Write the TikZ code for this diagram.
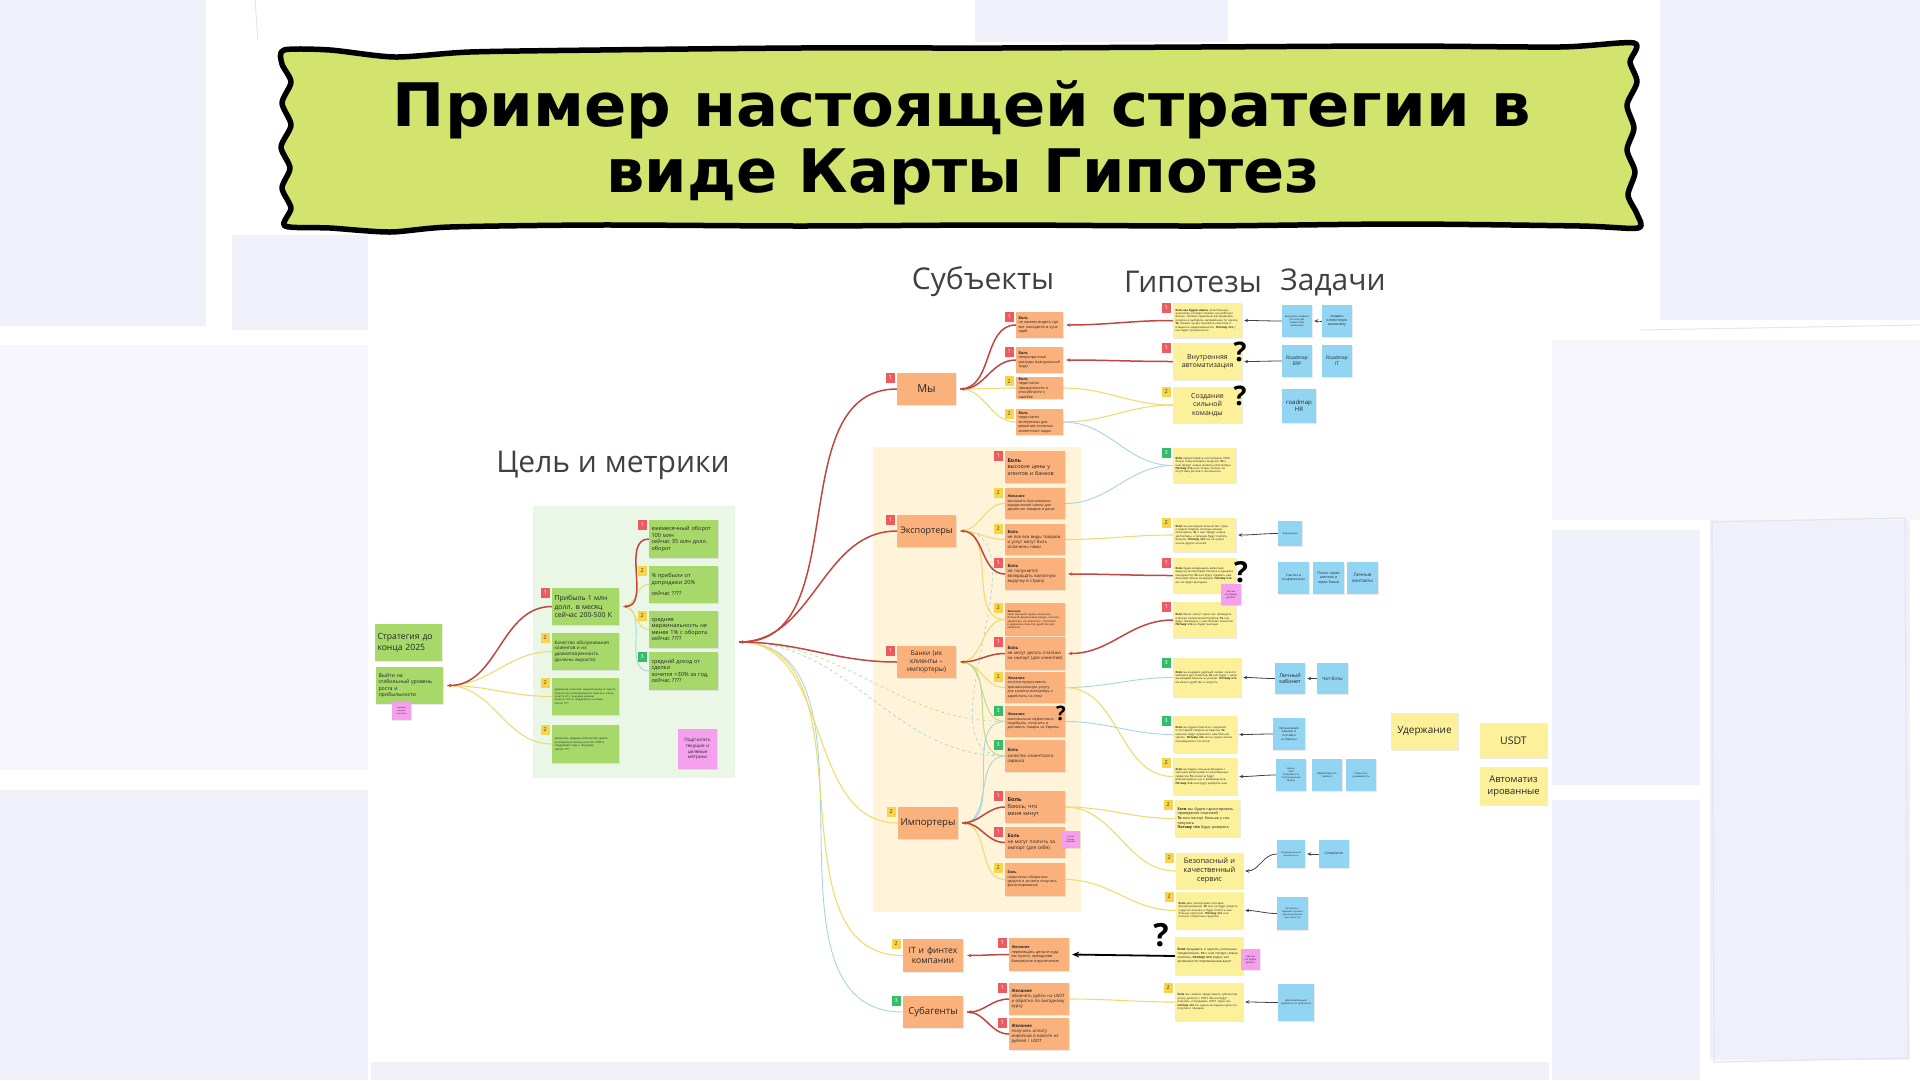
\documentclass[tikz,border=0pt]{standalone}
\usepackage{fontspec}
\setmainfont{Open Sans}
\newfontfamily\titlefont{DejaVu Sans}
\usetikzlibrary{arrows.meta,shadows,calc}
\pgfdeclarelayer{back}\pgfdeclarelayer{links}
\pgfsetlayers{back,links,main}
\definecolor{titleg}{HTML}{D2E36E}
\definecolor{bgl}{HTML}{EFF0FA}
\definecolor{bgll}{HTML}{F6F6FC}
\definecolor{bgline}{HTML}{E3E5F4}
\definecolor{gsti}{HTML}{A6D86A}
\definecolor{greg}{HTML}{EAF7E7}
\definecolor{osti}{HTML}{FAB17B}
\definecolor{yreg}{HTML}{FFF3D9}
\definecolor{ysti}{HTML}{FCF09B}
\definecolor{bsti}{HTML}{92D5F2}
\definecolor{psti}{HTML}{F5A0EC}
\definecolor{bred}{HTML}{EE5B5E}
\definecolor{byel}{HTML}{F8D447}
\definecolor{bgrn}{HTML}{34BC66}
\definecolor{cred}{HTML}{C0473F}
\definecolor{cyel}{HTML}{EEDC70}
\definecolor{cteal}{HTML}{A6D6DC}
\definecolor{cgrn}{HTML}{BCDD8C}
\newcommand{\fz}[2]{\fontsize{#1}{#2}\selectfont}
\newcommand{\sticky}[7]{%
  \pgfmathsetmacro{\skw}{#5-#3}%
  \pgfmathsetmacro{\skh}{#6-#4}%
  \pgfmathsetmacro{\sktw}{#5-#3-5}%
  \node[#1, minimum width=\skw pt, minimum height=\skh pt, text width=\sktw pt] (#2) at ({(#3+#5)/2},{(#4+#6)/2}) {#7};}
\newcommand{\bdg}[3]{\node[badge,#2] (#1b) at ([xshift=-6.5pt,yshift=-5pt]#1.north west) {#3};}
\tikzset{
  stk/.style={rectangle, inner xsep=2.5pt, inner ysep=1pt, text=black!85,
    drop shadow={shadow xshift=0.6pt, shadow yshift=-1pt, opacity=0.16}},
  gnote/.style={stk, fill=gsti},
  onote/.style={stk, fill=osti},
  ynote/.style={stk, fill=ysti},
  bnote/.style={stk, fill=bsti, align=center},
  pnote/.style={stk, fill=psti, align=center, inner xsep=1pt},
  badge/.style={rectangle, minimum width=9pt, minimum height=10pt, inner sep=0pt, font=\fz{5.5}{6}},
  br/.style={fill=bred, text=white},
  by/.style={fill=byel, text=black!75},
  bg/.style={fill=bgrn, text=white},
  lred/.style={draw=cred, line width=1.5pt},
  lyel/.style={draw=cyel, line width=1.1pt},
  lteal/.style={draw=cteal, line width=0.9pt},
  lgrn/.style={draw=cgrn, line width=1pt},
  ltask/.style={draw=black!75, line width=0.8pt},
  lblk/.style={draw=black, line width=1.8pt},
  tipS/.style={{Stealth[length=4pt,width=3.5pt]}-},
  tipL/.style={{Stealth[length=7pt,width=6pt]}-},
  head/.style={font=\fz{30}{34}, text=black!75},
  qm/.style={font=\bfseries\fz{27}{27}, text=black, inner sep=0pt},
  titletxt/.style={font=\titlefont\bfseries\fz{60}{64}, text=black, inner sep=0pt},
  chs/.style={onote, align=left, font=\fz{4.3}{5.2}},
  chm/.style={onote, align=left, font=\fz{3.8}{4.5}},
  hyp/.style={ynote, align=left, font=\fz{2.8}{3.4}},
}
\begin{document}
\begin{tikzpicture}[x=1pt,y=-1pt]
\useasboundingbox (0,0) rectangle (1920,1080);
\begin{pgfonlayer}{back}
\fill[white] (0,0) rectangle (1920,1080);
\fill[bgl] (0,0) rectangle (206,326);
\fill[bgll] (0,345) rectangle (368,770);
\fill[bgl] (0,790) rectangle (368,1080);
\fill[bgl] (232,235) rectangle (368,330);
\fill[bgl] (975,0) rectangle (1228,42);
\fill[bgl] (1660,0) rectangle (1920,320);
\fill[bgll] (1552,340) rectangle (1920,520);
\fill[bgl] (1552,530) rectangle (1700,785);
\fill[bgl] (1710,520) rectangle (1910,1060);
\draw[bgline, line width=1.2pt] (1712,522) -- (1905,518) -- (1908,1058) -- (1714,1062) -- cycle;
\fill[bgl] (1552,800) rectangle (1700,1080);
\fill[bgl] (371,1062) rectangle (1549,1080);
\draw[bgline, line width=1pt] (255,0) -- (258,40);
\draw[bgline, line width=1pt] (1640,330) -- (1920,325);
% screenshot panel
\fill[white] (371,257) rectangle (1549,1062);
\fill[greg] (533,506) rectangle (735,778);
\fill[yreg] (873,447) rectangle (1081,912);
\end{pgfonlayer}

% title banner
\draw[line width=5.5pt, fill=titleg, line join=round] plot[smooth cycle, tension=0.45] coordinates {
 (284,50) (330,50) (395,57) (470,52) (600,50) (800,48) (1000,48) (1200,47) (1400,46) (1560,47) (1634,43)
 (1630,62) (1637,82) (1627,105) (1634,128) (1627,150) (1635,172) (1628,195) (1637,214) (1638,228)
 (1580,226) (1400,224) (1200,226) (1000,225) (800,226) (600,225) (450,227) (390,232) (330,228) (285,226)
 (291,208) (282,188) (290,168) (281,147) (291,125) (282,103) (291,82) (282,64)};
\node[titletxt, anchor=base] (t1) at (962,126) {\scalebox{1.04}[1]{Пример настоящей стратегии в}};
\node[titletxt, anchor=base] (t2) at (963,192) {\scalebox{1.01}[1]{виде Карты Гипотез}};

% headings
\node[head] (hS) at (983,282) {Субъекты};
\node[head] (hH) at (1193,282) {Гипотезы};
\node[head] (hZ) at (1333,282) {Задачи};
\node[head] (hC) at (613,465) {Цель и метрики};

% left
\sticky{gnote,align=left,font=\fz{8.6}{10.5}}{Strat}{375}{624}{442}{661}{Стратегия до конца 2025}
\sticky{gnote,align=left,font=\fz{5.2}{6.3}}{Goal}{376}{667}{443}{704}{Выйти на\\стабильный уровень\\роста и\\прибыльности}
\sticky{pnote,font=\fz{2}{2.6}}{PG}{392}{702}{411}{720}{целевые\\метрики\\компании}

% goal metrics
\sticky{gnote,align=left,font=\fz{6.9}{8.6}}{Prof}{552}{588}{619}{625}{Прибыль 1 млн\\долл. в месяц\\сейчас 200-500 К}
\sticky{gnote,align=left,font=\fz{4.6}{5.8}}{Qual}{552}{633}{619}{670}{Качество обслуживания\\клиентов и их\\удовлетворенность\\(должны вырасти)}
\sticky{gnote,align=left,font=\fz{2.6}{3.3}}{Ret}{552}{678}{619}{715}{удержание клиентов: средний доход от одного клиента при повторяющихся сделках в месяц, хочется x2 к текущему уровню\\хочется +X\% за следующие 6 месяцев\\сейчас ????}
\sticky{gnote,align=left,font=\fz{2.8}{3.5}}{Deals}{552}{725}{619}{763}{увеличить среднее количество сделок на клиента в месяц, хочется +50\% в следующем году к текущему\\сейчас ????}
\sticky{gnote,align=left,font=\fz{5.6}{6.6}}{M1}{649}{520}{718}{558}{ежемесячный оборот\\100 млн\\сейчас 35 млн долл.\\оборот}
\sticky{gnote,align=left,font=\fz{5.6}{6.6}}{M2}{649}{566}{718}{603}{\% прибыли от\\допродажи 20\%\\[5pt]сейчас ????}
\sticky{gnote,align=left,font=\fz{5.6}{6.6}}{M3}{649}{611}{718}{648}{средняя\\маржинальность не\\менее 1\% с оборота\\сейчас ????}
\sticky{gnote,align=left,font=\fz{5.6}{6.6}}{M4}{649}{652}{718}{690}{средний доход от\\сделки\\хочется +30\% за год,\\сейчас ????}
\sticky{pnote,font=\fz{4.6}{5.8}}{PM}{678}{729}{717}{769}{Подсчитать\\текущие и\\целевые\\метрики}

% subjects
\sticky{onote,align=center,font=\fz{11}{13}}{We}{897}{373}{956}{405}{Мы}
\sticky{onote,align=center,font=\fz{9}{11}}{Exp}{897}{515}{956}{547}{Экспортеры}
\sticky{onote,align=center,font=\fz{6.6}{8}}{Bank}{897}{646}{956}{678}{Банки (их\\клиенты –\\импортеры)}
\sticky{onote,align=center,font=\fz{9.6}{11}}{Imp}{898}{807}{958}{839}{Импортеры}
\sticky{onote,align=center,font=\fz{8.6}{10.5}}{ITf}{903}{939}{963}{972}{IT и финтех\\компании}
\sticky{onote,align=center,font=\fz{9.6}{11}}{Sub}{903}{996}{963}{1028}{Субагенты}

% children: Мы
\sticky{chm}{W1}{1016}{312}{1063}{338}{\textbf{Боль}\\не можем видеть где все находится в куче идей}
\sticky{chm}{W2}{1016}{347}{1063}{373}{\textbf{Боль}\\непрозрачные расходы (мануальный труд)}
\sticky{chm}{W3}{1016}{377}{1063}{399}{\textbf{Боль}\\недостаток прозрачности и способности к ошибке}
\sticky{chm}{W4}{1016}{409}{1063}{435}{\textbf{Боль}\\недостаток экспертизы для решения сложных клиентских задач}
% children: Экспортеры
\sticky{onote,align=left,font=\fz{5.4}{6.4}}{E1}{1005}{451}{1065}{483}{\textbf{Боль}\\высокие цены у\\агентов и банков}
\sticky{chs,font=\fz{3.6}{4.4}}{E2}{1005}{488}{1065}{519}{\textbf{Желание}\\выстроить бухгалтерско-юридические схемы для движения товаров и денег}
\sticky{chs}{E3}{1005}{524}{1065}{555}{\textbf{Боль}\\не все все виды товаров и услуг могут быть оплачены нами}
\sticky{chs}{E4}{1005}{558}{1065}{590}{\textbf{Боль}\\не получается возвращать валютную выручку в страну}
% children: Банки
\sticky{chs,font=\fz{2.7}{3.3}}{B1}{1005}{603}{1065}{636}{\textbf{Желание}\\свой хороший сервис клиентам, большой финансовый ресурс, хочется заработать на комиссии с платежей и удержать клиентов, удобство для клиентов}
\sticky{chs}{B2}{1005}{637}{1065}{670}{\textbf{Боль}\\не могут делать платежи на импорт (для клиентов)}
\sticky{chs,font=\fz{3.6}{4.4}}{B3}{1005}{672}{1065}{703}{\textbf{Желание}\\хочется предоставить транзакционную услугу для клиента импортеру и заработать на этом}
\sticky{chs,font=\fz{3.6}{4.4}}{B4}{1005}{706}{1065}{737}{\textbf{Желание}\\максимально эффективно подобрать, получить и доставить товары из Европы}
\sticky{chs}{B5}{1005}{740}{1065}{772}{\textbf{Боль}\\качество клиентского сервиса}
% children: Импортеры
\sticky{onote,align=left,font=\fz{5.6}{6.8}}{I1}{1005}{791}{1065}{823}{\textbf{Боль}\\боюсь, что\\меня кинут}
\sticky{onote,align=left,font=\fz{4.8}{5.8}}{I2}{1005}{827}{1065}{858}{\textbf{Боль}\\не могут платить за импорт (для себя)}
\sticky{chs,font=\fz{3.6}{4.4}}{I3}{1005}{863}{1065}{896}{\textbf{Боль}\\недостаток оборотных средств и хочется получить финансирование}
\sticky{pnote,font=\fz{2.2}{2.8}}{PI}{1061}{831}{1080}{848}{кто за\\платеж\\отвечает}
% children: IT, Субагенты
\sticky{chs,font=\fz{3.8}{4.6}}{F1}{1009}{938}{1069}{971}{\textbf{Желание}\\перемещать деньги куда им нужно, преодолев банковские ограничения}
\sticky{chs}{S1}{1009}{983}{1069}{1015}{\textbf{Желание}\\обменять рубли на USDT и обратно по выгодному курсу}
\sticky{chs}{S2}{1009}{1018}{1069}{1050}{\textbf{Желание}\\получить оплату инвойсов в валюте из рублей / USDT}

% hypotheses
\sticky{hyp}{H1}{1173}{303}{1242}{338}{\textbf{Если мы будем иметь} качественную аналитику, которая покажет как работает бизнес, сможем правильно распределять ресурсы и выбирать направления по сделке. \textbf{То} сможем лучше понимать клиентов и повышать маржинальность. \textbf{Потому что} у нас будет прозрачность}
\sticky{ynote,align=center,font=\fz{7}{8.6}}{H2}{1173}{343}{1242}{380}{Внутренняя\\автоматизация}
\sticky{ynote,align=center,font=\fz{7}{8.6}}{H3}{1173}{387}{1242}{423}{Создание\\сильной\\команды}
\sticky{hyp}{H4}{1173}{448}{1236}{483}{\textbf{Если} предоставлять экспортерам 100\% белую схему возврата выручки, \textbf{То} к нам придут новые клиенты-экспортеры. \textbf{Потому что} они готовы платить за отсутствие рисков и легальность}
\sticky{hyp}{H5}{1173}{518}{1236}{552}{\textbf{Если} мы расширим количество стран и видов товаров, которые можем оплачивать, \textbf{То} к нам придут новые экспортеры, а текущие будут платить больше. \textbf{Потому что} им не нужно искать других агентов}
\sticky{hyp}{H6}{1173}{558}{1236}{593}{\textbf{Если} будем возвращать валютную выручку экспортерам быстрее и дешевле конкурентов, \textbf{То} они будут отдавать нам больший объем операций. \textbf{Потому что} им так будет выгоднее}
\sticky{hyp}{H7}{1173}{602}{1236}{638}{\textbf{Если} банки смогут через нас проводить платежи клиентов-импортеров, \textbf{То} они будут приводить к нам больше клиентов. \textbf{Потому что} им будет выгодно}
\sticky{hyp}{H8}{1173}{658}{1241}{697}{\textbf{Если} мы внедрим удобный сервис личного кабинета для клиентов, \textbf{То} они будут с нами взаимодействовать не разово. \textbf{Потому что} им важно удобство и скорость}
\sticky{hyp}{H9}{1173}{716}{1237}{753}{\textbf{Если} мы будем помогать с закупкой и поставкой товаров из Европы, \textbf{То} клиенты будут приносить нам больше сделок. \textbf{Потому что} им не нужно искать поставщиков и логистов}
\sticky{hyp}{H10}{1173}{758}{1237}{795}{\textbf{Если} мы будем сильным брендом с хорошей репутацией и качественным сервисом, \textbf{То} клиенты будут рекомендовать нас и возвращаться. \textbf{Потому что} они будут доверять нам}
\sticky{ynote,align=left,font=\fz{3.7}{4.6}}{H11}{1175}{800}{1240}{837}{\textbf{Если} мы будем гарантировать проведение платежей\\\textbf{То} они начнут больше у нас покупать\\\textbf{Потому что} будут доверять}
\sticky{ynote,align=center,font=\fz{7.4}{9}}{H12}{1176}{853}{1243}{889}{Безопасный и\\качественный\\сервис}
\sticky{hyp}{H13}{1176}{892}{1243}{929}{\textbf{Если} дать импортерам торговое финансирование, \textbf{То} они не будут уходить к другим агентам и будут платить нам больше комиссий. \textbf{Потому что} они получат оборотные средства}
\sticky{ynote,align=left,font=\fz{3.2}{3.9}}{H14}{1175}{937}{1243}{975}{\textbf{Если} продавать и сделать успешным продвижение, \textbf{то} к нам придут новые клиенты, \textbf{потому что} рядом нет возможности перемещения денег}
\sticky{hyp}{H15}{1175}{983}{1243}{1021}{\textbf{Если} мы сможем предоставить субагентам услугу доступа к USDT, \textbf{то} они будут покупать и продавать USDT через нас, \textbf{потому что} им нужны выгодные курсы по покупке и продаже}
\sticky{pnote,font=\fz{2.4}{3}}{PH6}{1221}{584}{1241}{605}{Как мы\\это будем\\делать?}
\sticky{pnote,font=\fz{2.4}{3}}{PH14}{1241}{949}{1260}{970}{Как мы\\это будем\\делать?}

% tasks
\sticky{bnote,font=\fz{2.5}{3.1}}{T1}{1282}{305}{1312}{337}{Выгрузить правила расчета для клиентской аналитики}
\sticky{bnote,font=\fz{3.6}{4.4}}{T2}{1322}{305}{1352}{337}{создать клиентскую аналитику}
\sticky{bnote,font=\fz{4.8}{6}}{T3}{1282}{345}{1312}{377}{Roadmap\\ERP}
\sticky{bnote,font=\fz{4.8}{6}}{T4}{1322}{345}{1352}{377}{Roadmap\\IT}
\sticky{bnote,font=\fz{6}{7.4}}{T5}{1282}{389}{1316}{423}{roadmap\\HR}
\sticky{bnote,font=\fz{2.4}{3}}{T6}{1278}{521}{1302}{546}{Информация}
\sticky{bnote,font=\fz{3.2}{4}}{T7}{1278}{562}{1309}{594}{Участие в конференциях}
\sticky{bnote,font=\fz{3.6}{4.4}}{T8}{1313}{562}{1344}{594}{Поиск через агентов и через банки}
\sticky{bnote,font=\fz{4.6}{5.6}}{T9}{1347}{562}{1378}{594}{Личные\\контакты}
\sticky{bnote,font=\fz{5.4}{6.6}}{T10}{1275}{663}{1305}{694}{Личный\\кабинет}
\sticky{bnote,font=\fz{4.6}{5.6}}{T11}{1317}{663}{1348}{694}{Чат-боты}
\sticky{bnote,font=\fz{3}{3.7}}{T12}{1273}{718}{1305}{750}{Организация закупки и поставки из Европы}
\sticky{bnote,font=\fz{2.4}{3}}{T13}{1276}{759}{1306}{791}{Бренд\\Сайт\\Узнаваемость\\Репутационный\\Медиа}
\sticky{bnote,font=\fz{2.6}{3.2}}{T14}{1312}{759}{1342}{791}{Эффективность сервиса}
\sticky{bnote,font=\fz{2.6}{3.2}}{T15}{1346}{759}{1376}{791}{Повысить узнаваемость}
\sticky{bnote,font=\fz{2.2}{2.8}}{T16}{1277}{840}{1305}{868}{Информационная безопасность}
\sticky{bnote,font=\fz{3.4}{4.2}}{T17}{1319}{840}{1349}{868}{Compliance}
\sticky{bnote,font=\fz{2.3}{2.9}}{T18}{1277}{897}{1308}{930}{Выстроить с банками торговое финансирование для клиентов}
\sticky{bnote,font=\fz{2.5}{3.1}}{T19}{1278}{984}{1314}{1021}{Дополнительный заработок на субагентах}

% far right
\sticky{ynote,align=center,font=\fz{10}{12}}{U}{1391}{713}{1458}{750}{Удержание}
\sticky{ynote,align=center,font=\fz{10.5}{12}}{USDT}{1480}{723}{1547}{758}{USDT}
\sticky{ynote,align=center,font=\fz{9.4}{12}}{Auto}{1480}{767}{1547}{805}{Автоматиз\\ированные}

% badges
\bdg{Prof}{br}{1}\bdg{Qual}{by}{2}\bdg{Ret}{by}{2}\bdg{Deals}{by}{2}
\bdg{M1}{br}{1}\bdg{M2}{by}{2}\bdg{M3}{by}{2}\bdg{M4}{bg}{3}
\bdg{We}{br}{1}\bdg{Exp}{br}{1}\bdg{Bank}{br}{1}\bdg{Imp}{by}{2}\bdg{ITf}{by}{2}\bdg{Sub}{bg}{3}
\bdg{W1}{br}{1}\bdg{W2}{br}{1}\bdg{W3}{by}{2}\bdg{W4}{by}{2}
\bdg{E1}{br}{1}\bdg{E2}{by}{2}\bdg{E3}{by}{2}\bdg{E4}{br}{1}
\bdg{B1}{by}{2}\bdg{B2}{br}{1}\bdg{B3}{by}{2}\bdg{B4}{bg}{3}\bdg{B5}{bg}{3}
\bdg{I1}{br}{1}\bdg{I2}{br}{1}\bdg{I3}{by}{2}
\bdg{F1}{br}{1}\bdg{S1}{br}{1}\bdg{S2}{br}{1}
\bdg{H1}{br}{1}\bdg{H2}{br}{1}\bdg{H3}{by}{2}\bdg{H4}{bg}{3}\bdg{H5}{by}{2}\bdg{H6}{br}{1}\bdg{H7}{br}{1}
\bdg{H8}{bg}{3}\bdg{H9}{bg}{3}\bdg{H10}{by}{2}\bdg{H11}{by}{2}\bdg{H12}{by}{2}\bdg{H13}{by}{2}\bdg{H15}{by}{2}

% question marks
\node[qm] (q1) at (1240,352) {?};
\node[qm] (q2) at (1240,396) {?};
\node[qm, font=\bfseries\fz{29}{29}] (q3) at (1241,572) {?};
\node[qm, font=\bfseries\fz{20}{20}] (q4) at (1061,713) {?};
\node[qm, font=\bfseries\fz{32}{32}] (q5) at (1161,935) {?};

\coordinate (hub) at (739,642);

\begin{pgfonlayer}{links}
% goal
\draw[lyel] ([xshift=4pt]Goal.east) to[out=0,in=180] (Qual.west);
\draw[lyel] ([xshift=4pt]Goal.east) to[out=0,in=180] (Ret.west);
\draw[lyel] ([xshift=4pt]Goal.east) to[out=0,in=180] (Deals.west);
\draw[lred,tipS] ([xshift=4pt]Goal.east) to[out=0,in=180] (Prof.west);
% profit
\draw[lteal] ([xshift=4pt]Prof.east) to[out=0,in=180] (M4.west);
\draw[lyel] ([xshift=4pt]Prof.east) to[out=0,in=180] (M3.west);
\draw[lyel] ([xshift=4pt]Prof.east) to[out=0,in=180] (M2.west);
\draw[lred,tipS] ([xshift=4pt]Prof.east) to[out=0,in=180] (M1.west);
% hub
\draw[lteal] (hub) to[out=0,in=180] (Sub.west);
\draw[lyel] (hub) to[out=0,in=180] (ITf.west);
\draw[lyel] (hub) to[out=0,in=180] (Imp.west);
\draw[lgrn,dashed,line width=0.7pt] (hub) to[out=0,in=180] (B4.west);
\draw[lteal,dashed,line width=0.7pt] (hub) to[out=0,in=180] (B5.west);
\draw[lred] (hub) to[out=0,in=180] (Bank.west);
\draw[lred] (hub) to[out=0,in=180] (Exp.west);
\draw[lred,tipS] (hub) to[out=0,in=180] (We.west);
% Мы
\draw[lyel] ([xshift=4pt]We.east) to[out=0,in=180] (W3.west);
\draw[lyel] ([xshift=4pt]We.east) to[out=0,in=180] (W4.west);
\draw[lred] ([xshift=4pt]We.east) to[out=0,in=180] (W1.west);
\draw[lred,tipS] ([xshift=4pt]We.east) to[out=0,in=180] (W2.west);
% Экспортеры
\draw[lteal,dashed,line width=0.7pt] ([xshift=4pt]Exp.east) to[out=0,in=180] (B5.west);
\draw[lyel] ([xshift=4pt]Exp.east) to[out=0,in=180] (B1.west);
\draw[lyel] ([xshift=4pt]Exp.east) to[out=0,in=180] (E2.west);
\draw[lyel] ([xshift=4pt]Exp.east) to[out=0,in=180] (E3.west);
\draw[lred,tipS] ([xshift=4pt]Exp.east) to[out=0,in=180] (E4.west);
% Банки
\draw[lyel] ([xshift=4pt]Bank.east) to[out=0,in=180] (B1.west);
\draw[lyel] ([xshift=4pt]Bank.east) to[out=0,in=180] (B3.west);
\draw[lgrn] ([xshift=4pt]Bank.east) to[out=0,in=180] (B4.west);
\draw[lgrn] ([xshift=4pt]Bank.east) to[out=0,in=180] (B5.west);
\draw[lred,tipS] ([xshift=4pt]Bank.east) to[out=0,in=180] (B2.west);
% Импортеры
\draw[lteal] ([xshift=4pt]Imp.east) to[out=0,in=180] (B4.west);
\draw[lteal] ([xshift=4pt]Imp.east) to[out=0,in=180] (B5.west);
\draw[lyel] ([xshift=4pt]Imp.east) to[out=0,in=180] (I3.west);
\draw[lred] ([xshift=4pt]Imp.east) to[out=0,in=180] (I1.west);
\draw[lred,tipS] ([xshift=4pt]Imp.east) to[out=0,in=180] (I2.west);
% IT, Субагенты
\draw[lred,tipS] ([xshift=4pt]ITf.east) to[out=0,in=180] (F1.west);
\draw[lred] ([xshift=4pt]Sub.east) to[out=0,in=180] (S2.west);
\draw[lred,tipS] ([xshift=4pt]Sub.east) to[out=0,in=180] (S1.west);
% children to hypotheses
\draw[lred,tipS] ([xshift=3pt]W1.east) to[out=0,in=180] (H1.west);
\draw[lred,tipS] ([xshift=3pt]W2.east) to[out=0,in=180] (H2.west);
\draw[lyel] (W3.east) to[out=0,in=180] (H3.west);
\draw[lyel] (W4.east) to[out=0,in=180] (H3.west);
\draw[lteal] (W4.east) to[out=0,in=180] (H4.west);
\draw[lteal] (E2.east) to[out=0,in=180] (H4.west);
\draw[lyel] (E3.east) to[out=0,in=180] (H5.west);
\draw[lred,tipS] ([xshift=3pt]E4.east) to[out=0,in=180] (H6.west);
\draw[lred,tipS] ([xshift=3pt]B2.east) to[out=0,in=180] (H7.west);
\draw[lteal] (B3.east) to[out=0,in=180] (H8.west);
\draw[lyel] (B3.east) to[out=0,in=180] (H10.west);
\draw[lteal] (B4.east) to[out=0,in=180] (H9.west);
\draw[lyel] (I1.east) to[out=0,in=180] (H11.west);
\draw[lyel] (I1.east) to[out=0,in=180] (H12.west);
\draw[lyel] (I3.east) to[out=0,in=180] (H13.west);
\draw[lyel] (S1.east) to[out=0,in=180] (H15.west);
\draw[lblk,tipL] ([xshift=3pt]F1.east) -- (H14.west);
% tasks
\draw[ltask,tipS] ([xshift=2pt]H1.east) to[out=0,in=180] (T1.west);
\draw[ltask,tipS] ([xshift=2pt]T1.east) to[out=0,in=180] (T2.west);
\draw[ltask,tipS] ([xshift=2pt]H2.east) to[out=0,in=180] (T3.west);
\draw[ltask,tipS] ([xshift=2pt]H5.east) to[out=0,in=180] (T6.west);
\draw[ltask,tipS] ([xshift=2pt]H8.east) to[out=0,in=180] (T10.west);
\draw[ltask,tipS] ([xshift=2pt]T10.east) to[out=0,in=180] (T11.west);
\draw[ltask,tipS] ([xshift=2pt]H9.east) to[out=0,in=180] (T12.west);
\draw[ltask,tipS] ([xshift=2pt]H10.east) to[out=0,in=180] (T13.west);
\draw[ltask,tipS] ([xshift=2pt]H12.east) to[out=0,in=180] (T16.west);
\draw[ltask,tipS] ([xshift=2pt]T16.east) to[out=0,in=180] (T17.west);
\draw[ltask,tipS] ([xshift=2pt]H13.east) to[out=0,in=180] (T18.west);
\draw[ltask,tipS] ([xshift=2pt]H15.east) to[out=0,in=180] (T19.west);
\end{pgfonlayer}
\end{tikzpicture}
\end{document}
